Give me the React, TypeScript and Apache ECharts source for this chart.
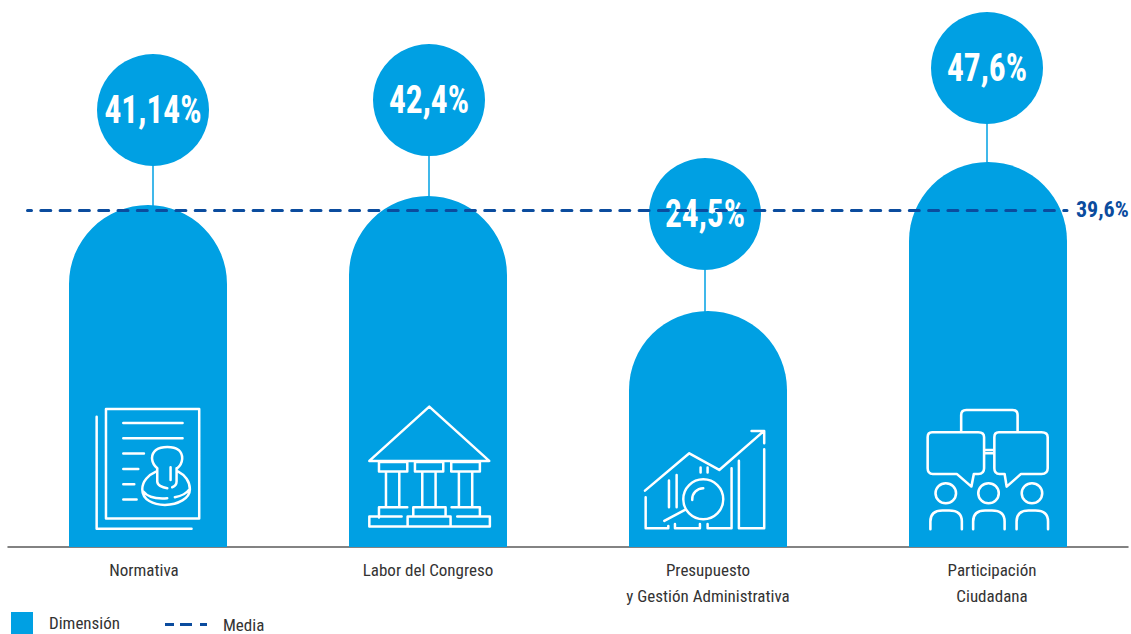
import React, { useEffect, useRef } from "react";
import * as echarts from "echarts";

const categories = ["Normativa", "Labor del Congreso", "Presupuesto\ny Gestión Administrativa", "Participación\nCiudadana"];
const percentLabels = ["41,14%", "42,4%", "24,5%", "47,6%"];
const columnHeights = [41.12, 42.2, 28.38, 46.29];
const mediaLevel = 40.55;
const mediaLabel = "39,6%";
const legendNames = ["Dimensión", "Media"];

const FONT = '"Roboto Condensed", "Open Sans Condensed", sans-serif';
const BLUE = "#00a0e3";
const NAVY = "#0b4c9e";
const NUDGE = [5, 1, -3, -1];
const STEM = [39, 40, 41, 38];
const LABEL_STYLE = { fontFamily: FONT, fontSize: 17, color: "#333", lineHeight: 26 };

const ICONS: Record<string, { d: string; x: number; y: number; sx: number }> = {
  iconNorma: {
    x: 80, y: 390, sx: 1 / 3,
    d: "M78,57H358V386H78ZM50,80V417H335M130,99H308M130,145H308M130,191H192M130,237H175M130,283H163M130,329H170" +
      "M232,235C214,220 210,195 228,180C245,168 280,168 296,180C312,195 310,220 292,235" +
      "M232,235V275C232,285 245,293 262,295M290,235V275C290,285 283,290 277,292M272,232V270" +
      "M228,245C205,255 187,275 187,298C187,330 220,345 255,345C295,345 330,325 330,298C330,275 315,255 295,245" +
      "M190,305C205,325 235,327 262,325M285,322C305,318 320,310 327,300",
  },
  iconLabor: {
    x: 360, y: 390, sx: 1 / 3,
    d: "M208,50L388,213H28ZM57,216H142V245H57ZM165,216H250V245H165ZM274,216H360V245H274Z" +
      "M78,245V350M118,245V350M187,245V350M227,245V350M297,245V350M337,245V350" +
      "M57,383V352H142M160,380V352H257V380M275,352H360V380" +
      "M125,380H28V410H390V380H292M143,410V380H272V410",
  },
  iconPresu: {
    x: 635, y: 420, sx: 1 / 3,
    d: "M30,212L163,100L253,150L385,35M350,33H388V70M32,232V325H100V318M120,312V325H195V312M218,312V325H290V145" +
      "M312,122V325H388V88M102,182V262M125,165V262M197,143V158M218,143V158" +
      "M145,238A60,60 0 1 1 265,238A60,60 0 1 1 145,238ZM172,240A33,33 0 0 1 205,205M88,303L150,270",
  },
  iconParti: {
    x: 915, y: 400, sx: 0.342,
    d: "M135,95V45Q135,30 150,30H285Q300,30 300,45V95" +
      "M50,97H185Q202,97 202,112V205Q202,222 185,222H172L165,260L122,222H52Q37,222 37,205V112Q37,97 50,97Z" +
      "M245,97H370Q388,97 388,112V205Q388,222 370,222H310L268,260L262,222H247Q232,222 232,205V112Q232,97 245,97Z" +
      "M202,150H232M202,160H232" +
      "M60,280A30,30 0 1 1 120,280A30,30 0 1 1 60,280ZM185,280A30,30 0 1 1 245,280A30,30 0 1 1 185,280ZM312,280A30,30 0 1 1 372,280A30,30 0 1 1 312,280Z" +
      "M45,388V365Q45,332 80,332H100Q137,332 137,365V388M170,388V365Q170,332 205,332H225Q262,332 262,365V388M297,388V365Q297,332 332,332H352Q389,332 389,365V388",
  },
};
Object.keys(ICONS).forEach((k) => {
  echarts.graphic.registerShape(k, echarts.graphic.extendPath(ICONS[k].d as any, {}) as any);
});

export default function App() {
  const ref = useRef<HTMLDivElement>(null);
  useEffect(() => {
    document.body.style.margin = "0";
    const chart = echarts.init(ref.current!, undefined, { renderer: "svg" });
    const option: any = {
      animation: false,
      backgroundColor: "#ffffff",
      grid: { left: 8, right: 3, top: 48, bottom: 87 },
      legend: [
        {
          data: [legendNames[0]], left: 11, top: 612, padding: 0, itemWidth: 22, itemHeight: 22, itemGap: 0,
          icon: "rect", textStyle: { fontFamily: FONT, fontSize: 17, color: "#333", padding: [0, 0, 0, 11] },
        },
        {
          data: [legendNames[1]], left: 165, top: 616, padding: 0, itemWidth: 42, itemHeight: 3, itemGap: 0,
          icon: "path://M0 0H9V3H0ZM15 0H27V3H15ZM35 0H42V3H35Z",
          textStyle: { fontFamily: FONT, fontSize: 17, color: "#333", padding: [0, 0, 11, 11] },
        },
      ],
      xAxis: {
        type: "category",
        data: categories,
        axisTick: { show: false },
        axisLine: { lineStyle: { color: "#5a5a5a", width: 1.5 } },
        axisLabel: {
          ...LABEL_STYLE, margin: 10, interval: 0,
          formatter: (value: string, index: number) => {
            const tag = index === 0 ? "l" : index === 3 ? "r" : "c";
            return value.split("\n").map((line) => `{${tag}|${line}}`).join("\n");
          },
          rich: {
            l: { ...LABEL_STYLE, padding: [0, 8, 0, 0] },
            c: { ...LABEL_STYLE },
            r: { ...LABEL_STYLE, padding: [0, 0, 0, 8] },
          },
        },
      },
      yAxis: { type: "value", min: 0, max: 60, show: false, splitLine: { show: false } },
      series: [
        {
          name: legendNames[0], type: "bar", data: columnHeights, barWidth: 158, z: 2,
          itemStyle: { color: BLUE, borderRadius: [79, 79, 0, 0] },
        },
        {
          type: "custom", z: 3, clip: false,
          data: columnHeights.map((v, i) => [i, v]),
          encode: { x: 0, y: 1 },
          renderItem: (params: any, api: any) => {
            const i = params.dataIndex;
            const p = api.coord([api.value(0), api.value(1)]);
            const cx = p[0] + NUDGE[i];
            const stemTop = p[1] - STEM[i];
            const cy = stemTop - 56;
            return {
              type: "group",
              children: [
                { type: "line", shape: { x1: cx, y1: p[1] + 2, x2: cx, y2: stemTop }, style: { stroke: BLUE, lineWidth: 1.5 } },
                { type: "circle", shape: { cx, cy, r: 56 }, style: { fill: BLUE } },
                {
                  type: "text", x: cx, y: cy, scaleX: 0.88,
                  style: { text: percentLabels[i], fill: "#fff", font: `bold 38px ${FONT}`, textAlign: "center", textVerticalAlign: "middle" },
                },
              ],
            };
          },
        },
        {
          name: legendNames[1], type: "line", data: [], z: 6,
          symbol: "none",
          lineStyle: { color: NAVY, width: 3 },
          itemStyle: { color: NAVY },
          markLine: {
            silent: true, symbol: "none", animation: false,
            lineStyle: { color: NAVY, width: 3, type: [10, 9.3], dashOffset: 6, cap: "round" },
            label: {
              show: true, position: "end", distance: 9, formatter: mediaLabel,
              fontFamily: FONT, fontSize: 22, fontWeight: "bold", color: NAVY,
            },
            data: [[{ x: 27.5, yAxis: mediaLevel }, { x: 1067, yAxis: mediaLevel }]],
          },
        },
      ],
      graphic: Object.keys(ICONS).map((k) => ({
        type: k, x: ICONS[k].x, y: ICONS[k].y, scaleX: ICONS[k].sx, scaleY: 1 / 3, z: 4,
        style: { fill: "none", stroke: "#fff", lineWidth: 7.5, lineCap: "round", lineJoin: "round" },
      })),
    };
    chart.setOption(option);
    return () => chart.dispose();
  }, []);
  return <div ref={ref} style={{ position: "absolute", left: 0, top: 0, width: 1131, height: 634, overflow: "hidden" }} />;
}
